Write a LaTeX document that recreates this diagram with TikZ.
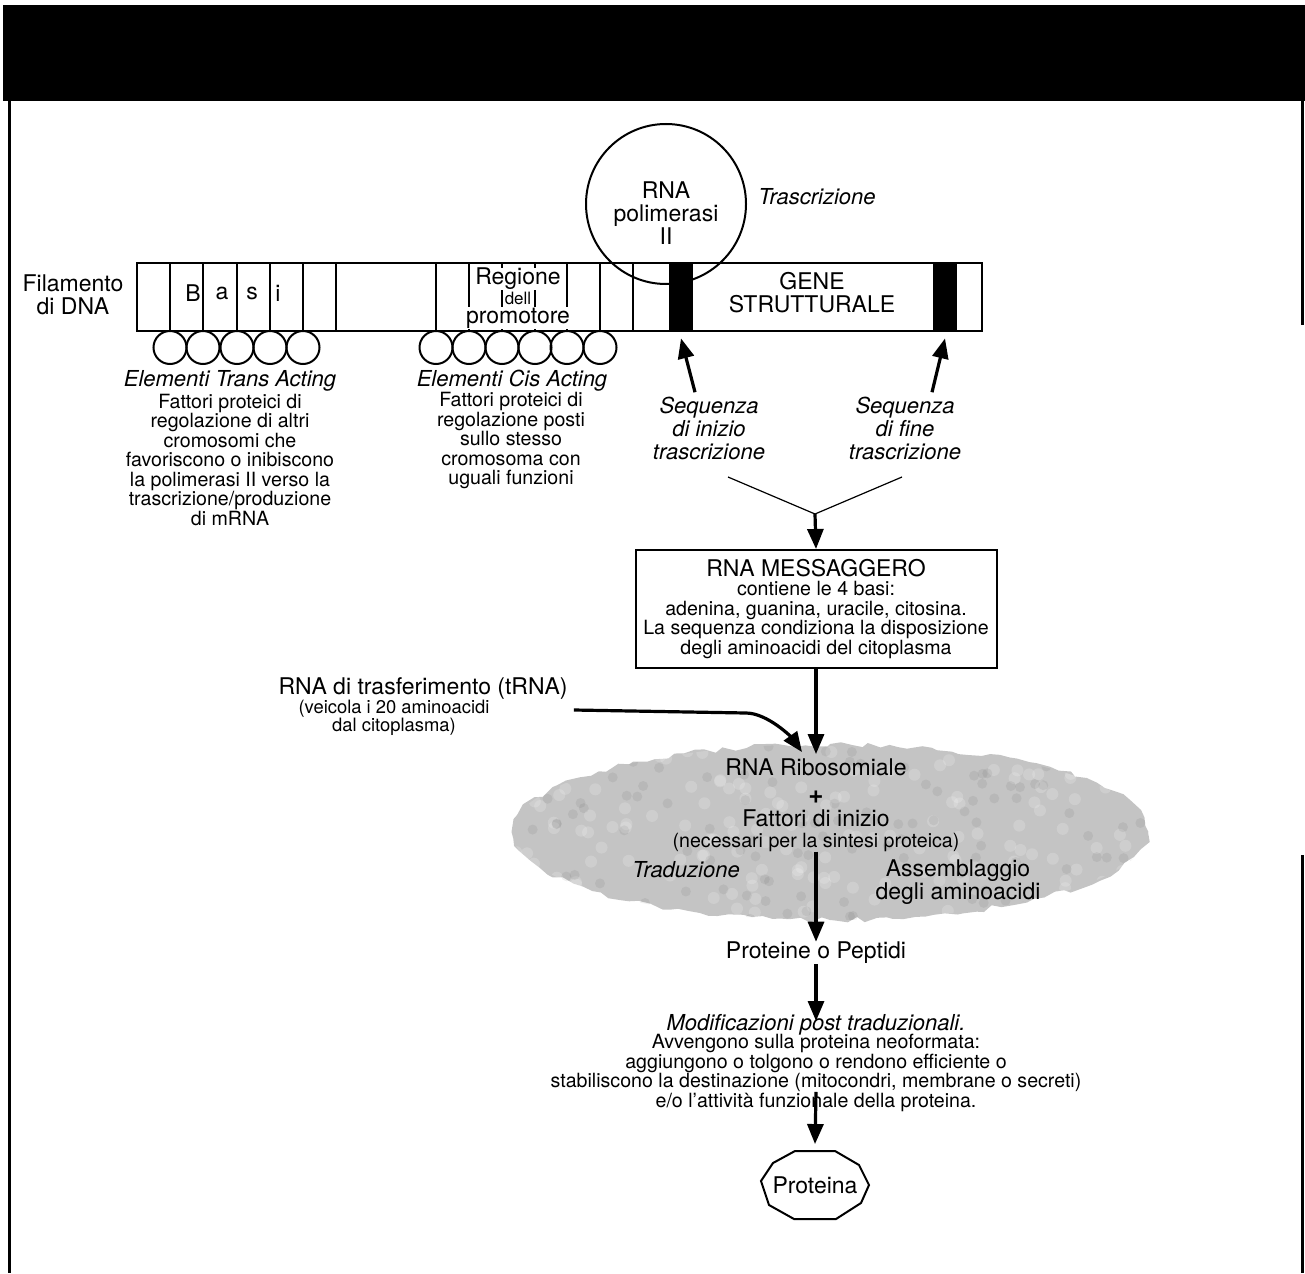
\documentclass[tikz,border=0pt]{standalone}
\usepackage{fontspec}
\setmainfont{TeX Gyre Heros}
\usetikzlibrary{arrows.meta,decorations.pathmorphing}

\begin{document}
\begin{tikzpicture}[
		x=0.5pt, y=-0.5pt,
		lab/.style={font=\fontsize{11.5}{11.5}\selectfont, align=center, inner sep=0pt},
		hd/.style={font=\fontsize{11}{11.5}\selectfont\itshape, align=center, inner sep=0pt},
		txt/.style={font=\fontsize{9.8}{9.75}\selectfont, align=center, inner sep=0pt},
		sm/.style={font=\fontsize{9.2}{9}\selectfont, align=center, inner sep=0pt},
		base/.style={circle, draw=black, line width=1pt, minimum size=16.5pt, inner sep=0pt},
		bar/.style={fill=black, minimum width=12pt, minimum height=34pt, inner sep=0pt},
		flow/.style={-{Triangle[length=10pt,width=8pt]}, line width=1.6pt},
		cloud/.style={fill=black!23, decorate, decoration={random steps, segment length=5pt, amplitude=1.5pt}}
		]
		\useasboundingbox (0,0) rectangle (1305,1273);
		% frame
		\fill (3,5) rectangle (1305,101);
		\draw[line width=1.5pt] (9,101) -- (9,1273);
		\draw[line width=1.5pt] (1302,101) -- (1302,325);
		\draw[line width=1.5pt] (1302,855) -- (1302,1273);
		% DNA strand
		\node[lab] (fil) at (73,295) {Filamento\\di DNA};
		\node[draw, line width=1pt, minimum width=422.5pt, minimum height=34pt, inner sep=0pt] (dna) at (559.5,297) {};
		\foreach \x in {170,203,237,270,303,336,436,469,502,535,567,600,633}
			\draw[line width=0.8pt] (\x,263) -- (\x,331);
		\node[bar] (ini) at (681,297) {};
		\node[bar] (end) at (945,297) {};
		\foreach \l/\x in {B/193,a/222,s/252,i/278}
			\node[lab] (b\l) at (\x,293) {\l};
		\node[lab, fill=white, inner sep=0.3pt] (reg) at (518,279) {Regione};
		\node[font=\fontsize{8.5}{8.5}\selectfont, inner sep=0pt] (del) at (518,298) {dell};
		\node[lab, fill=white, inner sep=0.3pt] (pro) at (518,318) {promotore};
		\node[lab] (gene) at (812,293) {GENE\\STRUTTURALE};
		\node[circle, draw, line width=1pt, minimum size=80pt, inner sep=0pt] (pol) at (666,204) {};
		\node[lab] (polt) at (666,213) {RNA\\polimerasi\\II};
		\node[hd] (tra) at (817,197) {Trascrizione};
		% bound factors
		\foreach \x [count=\i] in {170,203,237,270,303}
			\node[base] (t\i) at (\x,347.5) {};
		\foreach \x [count=\i] in {436,469,502,535,567,600}
			\node[base] (c\i) at (\x,347.5) {};
		\node[hd] (trans) at (230,381) {Elementi Trans Acting};
		\node[txt] (transt) at (230,459.5) {Fattori proteici di\\regolazione di altri\\cromosomi che\\favoriscono o inibiscono\\la polimerasi II verso la\\trascrizione/produzione\\di mRNA};
		\node[hd] (cis) at (512,381) {Elementi Cis Acting};
		\node[txt] (cist) at (511,440.5) {Fattori proteici di\\regolazione posti\\sullo stesso\\cromosoma con\\uguali funzioni};
		% start and stop
		\node[hd] (seqa) at (709,428) {Sequenza\\di inizio\\trascrizione};
		\node[hd] (seqb) at (905,428) {Sequenza\\di fine\\trascrizione};
		\draw[flow] ([xshift=-7pt,yshift=2pt]seqa.north) -- ([yshift=-3.5pt]ini.south);
		\draw[flow] ([xshift=13.5pt,yshift=2pt]seqb.north) -- ([yshift=-3.5pt]end.south);
		\coordinate (fa) at (728,477);
		\coordinate (fb) at (902,477);
		\coordinate (fk) at (815,514);
		\draw[line width=0.6pt] (fa) -- (fk) -- (fb);
		% messenger
		\node[txt, draw, line width=1pt, minimum width=180.5pt, minimum height=59pt] (mrna) at (816,609)
			{{\fontsize{11.5}{11.5}\selectfont RNA MESSAGGERO}\\contiene le 4 basi:\\adenina, guanina, uracile, citosina.\\La sequenza condiziona la disposizione\\degli aminoacidi del citoplasma};
		\draw[flow] (fk) -- (mrna.north);
		% ribosome
		\fill[cloud] (830,832) ellipse [x radius=318, y radius=88];
		\begin{scope}
			\clip (830,832) ellipse [x radius=318, y radius=88];
			\foreach \i in {1,...,160}
				\fill[white, opacity=0.18] ({512+636*rnd},{744+176*rnd}) circle (3pt);
			\foreach \i in {1,...,120}
				\fill[black, opacity=0.06] ({512+636*rnd},{744+176*rnd}) circle (2.5pt);
		\end{scope}
		\node[lab] (rib) at (816,767) {RNA Ribosomiale};
		\node[font=\bfseries\fontsize{13}{13}\selectfont, inner sep=0pt] (plus) at (816,797) {+};
		\node[lab] (fat) at (816,818) {Fattori di inizio};
		\node[txt] (nec) at (816,842) {(necessari per la sintesi proteica)};
		\node[hd] (trad) at (686,870) {Traduzione};
		\node[lab] (ass) at (958,882) {Assemblaggio\\degli aminoacidi};
		\draw[flow] (mrna.south) -- ([yshift=2pt]rib.north);
		\node[lab] (trna) at (423,689) {RNA di trasferimento (tRNA)};
		\node[sm] (veic) at (394,718) {(veicola i 20 aminoacidi\\dal citoplasma)};
		\draw[flow] ([xshift=42pt,yshift=4pt]veic.east) -- ++(172,3)
			.. controls +(22,0) and +(-10,-14) .. ([xshift=-7pt,yshift=3pt]rib.north);
		% products
		\node[lab] (prot) at (816,953) {Proteine o Peptidi};
		\draw[flow] (nec.south) -- (prot.north);
		\node[hd] (modh) at (816,1025) {Modificazioni post traduzionali.};
		\node[txt] (modb) at (816,1073) {Avvengono sulla proteina neoformata:\\aggiungono o tolgono o rendono efficiente o\\stabiliscono la destinazione (mitocondri, membrane o secreti)\\e/o l'attività funzionale della proteina.};
		\draw[flow] (prot.south) -- ([yshift=2pt]modh.center);
		\node[lab] (prt) at (815,1185) {Proteina};
		\draw[line width=1pt, shift={(prt.center)}] (-20,-34) -- (20,-34) -- (44,-20) -- (54,0) -- (46,18)
			-- (21,34) -- (-21,34) -- (-46,20) -- (-54,-4) -- (-42,-22) -- cycle;
		\draw[flow] ([yshift=10pt]modb.south) -- ([yshift=16pt]prt.north);
	\end{tikzpicture}
\end{document}
